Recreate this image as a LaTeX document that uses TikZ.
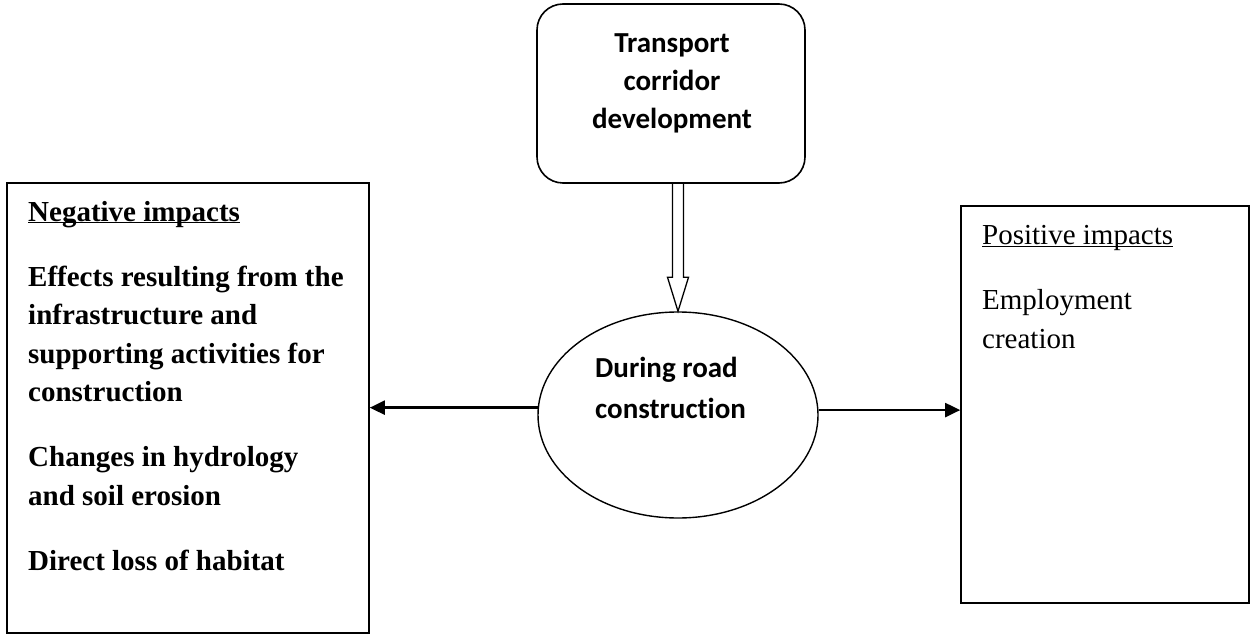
\documentclass[tikz,border=0pt]{standalone}
\usepackage{fontspec}
\setmainfont{Liberation Serif}
\newfontfamily\calfont[Ligatures=NoCommon]{Carlito}
\usetikzlibrary{arrows.meta,shapes.geometric,calc}
\begin{document}
\begin{tikzpicture}[x=1pt,y=-1pt,
  box/.style={draw,line width=1.6pt,inner sep=0pt},
  conn/.style={line width=2.4pt,-{Triangle[length=15pt,width=14pt]}},
  dbl/.style={line width=1.3pt,line join=miter},
  txt/.style={inner sep=0pt,align=left,anchor=base west,font=\fontsize{29}{38.5}\selectfont},
  ctxt/.style={inner sep=0pt,align=center,anchor=base,font=\calfont\bfseries\fontsize{29}{38}\selectfont}]
\useasboundingbox (0,0) rectangle (1252,636);
\node[box,rounded corners=26pt,minimum width=268pt,minimum height=179pt] (top) at (671,93.5) {};
\node[box,minimum width=362pt,minimum height=450pt] (neg) at (188,408) {};
\node[box,minimum width=288pt,minimum height=397pt] (pos) at (1105,404.5) {};
\node[draw,ellipse,line width=1.4pt,inner sep=0pt,minimum width=280pt,minimum height=206pt] (ell) at (678,415) {};
\node[ctxt] (toptxt) at (672,129) {Transport\\corridor\\development};
\node[txt,font=\calfont\bfseries\fontsize{29}{41}\selectfont] (elltxt) at (595,418) {During road\\construction};
\node[txt,font=\bfseries\fontsize{29}{38.5}\selectfont] (negtxt) at (28,570) {\underline{\smash{Negative impacts}}\\[26.5pt]Effects resulting from the\\infrastructure and\\supporting activities for\\construction\\[26.5pt]Changes in hydrology\\and soil erosion\\[26.5pt]Direct loss of habitat};
\node[txt] (postxt) at (982,348) {\underline{\smash{Positive impacts}}\\[26.5pt]Employment\\creation};
\draw[dbl] ($(ell.north |- top.south)+(-5.5,0)$) -- ($(ell.north)+(-5.5,-34)$) -- ($(ell.north)+(-10.5,-34)$) -- (ell.north) -- ($(ell.north)+(10.5,-34)$) -- ($(ell.north)+(5.5,-34)$) -- ($(ell.north |- top.south)+(5.5,0)$);
\draw[conn] (ell.177) -- (ell.177 -| neg.east);
\draw[conn] (ell.2.5) -- (ell.2.5 -| pos.west);
\end{tikzpicture}
\end{document}
